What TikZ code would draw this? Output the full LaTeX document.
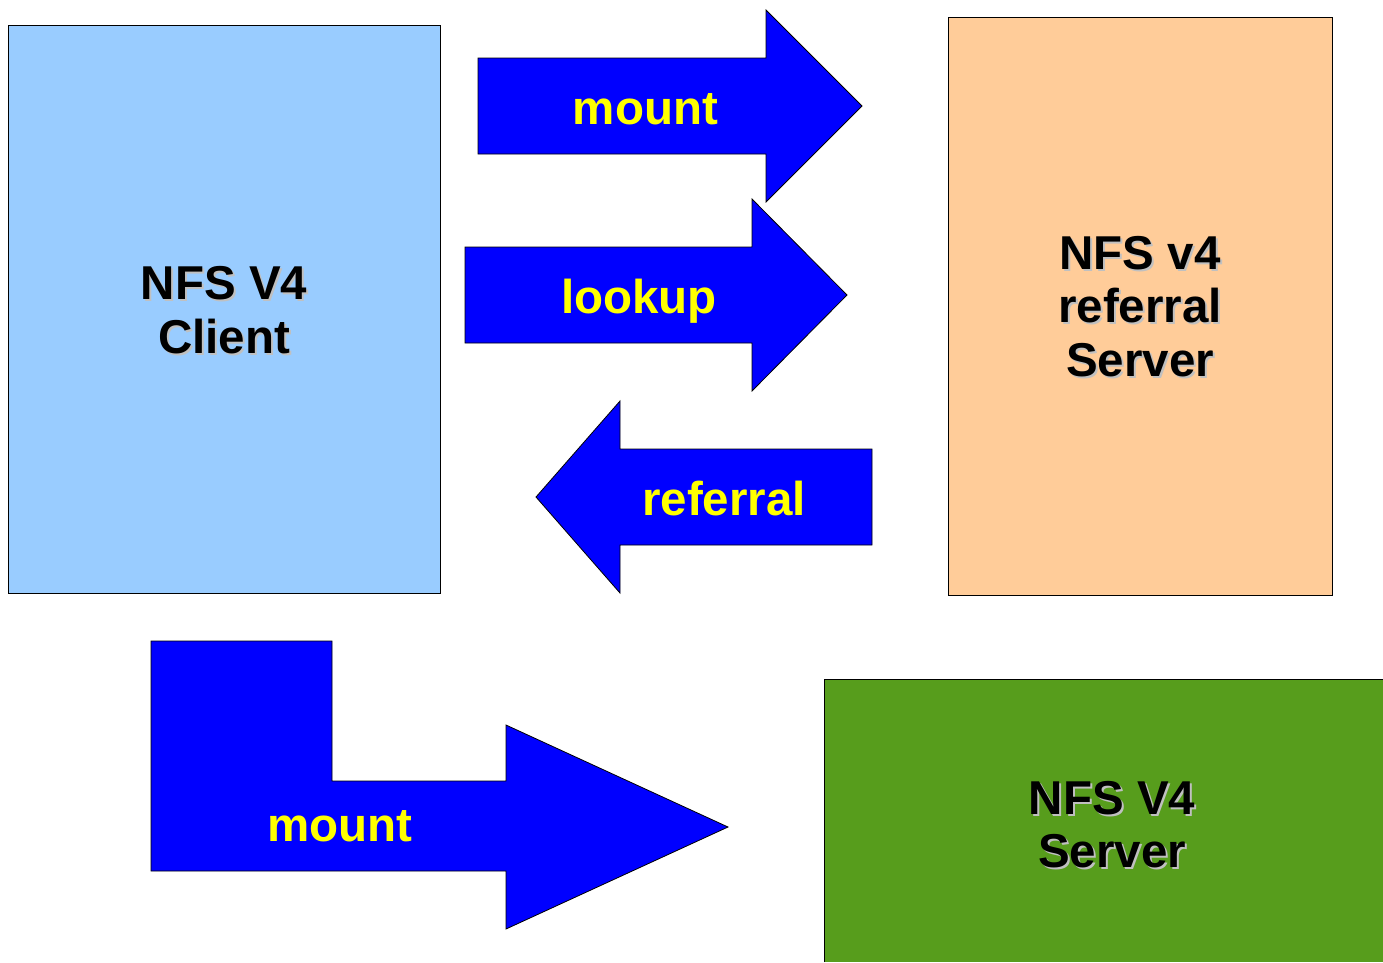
\documentclass[tikz,border=0pt]{standalone}
\usepackage{fontspec}
\setmainfont{Liberation Sans}
\usetikzlibrary{calc}
\definecolor{clientblue}{HTML}{99CCFF}
\definecolor{refor}{HTML}{FFCC99}
\definecolor{srvgreen}{HTML}{579D1C}
\definecolor{arrblue}{HTML}{0000FF}
\definecolor{shadowgray}{HTML}{C0C0C0}
\definecolor{labyellow}{HTML}{FFFF00}
\tikzset{
  box/.style={draw=black, line width=0.8pt},
  blockarrow/.style={draw=black, line width=0.8pt, fill=arrblue},
  boxtext/.style={inner sep=0pt, align=center, text=black,
    font=\fontsize{47.5}{53.5}\selectfont\bfseries},
  shadowtext/.style={boxtext, text=shadowgray},
  arrtext/.style={inner sep=0pt, anchor=base, text=labyellow,
    font=\fontsize{47.5}{53.5}\selectfont\bfseries},
}
\begin{document}
\begin{tikzpicture}[x=1pt,y=-1pt]
\useasboundingbox[fill=white] (0,0) rectangle (1383,962);
% boxes
\draw[box, fill=clientblue] (8,25) rectangle (440,593);
\draw[box, fill=refor] (948,17) rectangle (1332,595);
\fill[srvgreen] (824,679) rectangle (1383,962);
\draw[black, line width=0.8pt] (824,962) -- (824,679) -- (1383,679);
% box texts
\node[shadowtext] at (226,312) {NFS V4\\Client};
\node[boxtext] (client) at (224,310) {NFS V4\\Client};
\node[shadowtext] at (1142,308.5) {NFS v4\\referral\\Server};
\node[boxtext] (refsrv) at (1140,306.5) {NFS v4\\referral\\Server};
\node[shadowtext] at (1114,826.5) {NFS V4\\Server};
\node[boxtext] (srv) at (1112,824.5) {NFS V4\\Server};
% arrows
\draw[blockarrow] (478,58) -- (766,58) -- (766,10) -- (862,106) -- (766,202) -- (766,154) -- (478,154) -- cycle;
\node[arrtext] (lmount) at (645.5,124) {mount};
\draw[blockarrow] (465,247) -- (752,247) -- (752,199) -- (847,295) -- (752,391) -- (752,343) -- (465,343) -- cycle;
\node[arrtext] (llookup) at (639,313) {lookup};
\draw[blockarrow] (872,449) -- (620,449) -- (620,401) -- (536,497) -- (620,593) -- (620,545) -- (872,545) -- cycle;
\node[arrtext] (lreferral) at (724,515) {referral};
\draw[blockarrow] (151,641) -- (332,641) -- (332,781) -- (506,781) -- (506,725) -- (728,827) -- (506,929) -- (506,871) -- (151,871) -- cycle;
\node[arrtext] (lmount2) at (340,841) {mount};
\end{tikzpicture}
\end{document}
